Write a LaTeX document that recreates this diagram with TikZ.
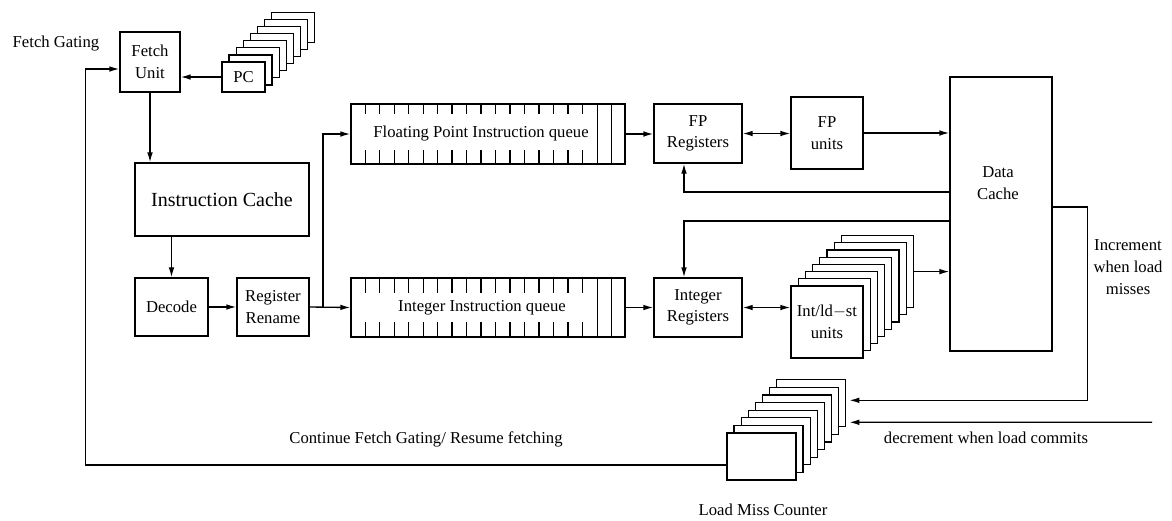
\documentclass[tikz,border=0pt]{standalone}
\usepackage{fontspec}
\setmainfont{Liberation Serif}
\usetikzlibrary{arrows.meta}

\begin{document}
\begin{tikzpicture}[x=0.6pt,y=-0.6pt,line width=0.8pt,
    font=\fontsize{10}{13}\selectfont,
    blk/.style={draw,fill=white,align=center,inner sep=1pt},
    arr/.style={-{Latex[length=6pt,width=3.4pt]}},
    darr/.style={{Latex[length=6pt,width=3.4pt]}-{Latex[length=6pt,width=3.4pt]}}]
  \useasboundingbox (0,0) rectangle (1172,520);
  \node (gatelbl) at (56,44) {Fetch Gating};
  \node[blk,minimum width=36pt,minimum height=36pt] (fetch) at (150,62) {Fetch\\Unit};
  \foreach \i in {7,...,1}
    \node[blk,minimum width=25.8pt,minimum height=18pt] (pc\i) at (243.5+7.1*\i,77-7.1*\i) {};
  \node[blk,minimum width=25.8pt,minimum height=18pt] (pc) at (243.5,77) {PC};
  \node[blk,minimum width=104.4pt,minimum height=43.8pt,font=\fontsize{12}{14}\selectfont] (icache) at (222,199.5) {Instruction Cache};
  \node[blk,minimum width=43.8pt,minimum height=34.8pt] (decode) at (171.5,307) {Decode};
  \node[blk,minimum width=43.2pt,minimum height=34.8pt] (rename) at (273,307) {Register\\Rename};
  \node[blk,minimum width=164.4pt,minimum height=36pt] (fpq) at (488,134) {};
  \node (fpqlbl) at (481,134) {Floating Point Instruction queue};
  \node[blk,minimum width=164.4pt,minimum height=35.4pt] (intq) at (488,307.5) {};
  \node (intqlbl) at (482,308) {Integer Instruction queue};
  \foreach \k in {0,...,15} {
    \draw ([shift={(15+14.47*\k,0)}]fpq.north west) -- ++(0,11);
    \draw ([shift={(15+14.47*\k,0)}]fpq.south west) -- ++(0,-15);
    \draw ([shift={(15+14.47*\k,0)}]intq.north west) -- ++(0,16);
    \draw ([shift={(15+14.47*\k,0)}]intq.south west) -- ++(0,-16);
  }
  \foreach \d in {247,261} {
    \draw ([shift={(\d,0)}]fpq.north west) -- ([shift={(\d,0)}]fpq.south west);
    \draw ([shift={(\d,0)}]intq.north west) -- ([shift={(\d,0)}]intq.south west);
  }
  \node[blk,minimum width=52.8pt,minimum height=35.4pt] (fpreg) at (698,133.5) {FP\\Registers};
  \node[blk,minimum width=43.2pt,minimum height=43.2pt] (fpu) at (827,133) {FP\\units};
  \node[blk,minimum width=52.8pt,minimum height=35.4pt] (intreg) at (698,307.5) {Integer\\Registers};
  \foreach \i in {7,...,1}
    \node[blk,minimum width=43.2pt,minimum height=43.2pt] (intu\i) at (827+7.2*\i,322-7.2*\i) {};
  \node[blk,minimum width=43.2pt,minimum height=43.2pt] (intu) at (827,322) {Int/ld$-$st\\units};
  \node[blk,minimum width=61.2pt,minimum height=164.4pt] (dcache) at (1001,214) {};
  \node[align=center] (dclbl) at (998,183) {Data\\Cache};
  \foreach \i in {7,...,1}
    \node[blk,minimum width=41.4pt,minimum height=28.2pt] (lmc\i) at (761.5+7.1*\i,456.5-7.6*\i) {};
  \node[blk,minimum width=41.4pt,minimum height=28.2pt] (lmc) at (761.5,456.5) {};
  \node (lmclbl) at (763,510) {Load Miss Counter};
  \node (contlbl) at (426,439) {Continue Fetch Gating/ Resume fetching};
  \node (declbl) at (986,438) {decrement when load commits};
  \node[align=center] (inclbl) at (1128,267) {Increment\\when load\\misses};

  \draw[arr] (pc.west) -- (pc.west -| fetch.east);
  \draw[arr] (fetch.south) -- (fetch.south |- icache.north);
  \draw[arr] (icache.south -| decode.north) -- (decode.north);
  \draw[arr] (decode.east) -- (rename.west);
  \draw[arr] (rename.east) -- (intq.west);
  \coordinate (br) at (323,307);
  \draw[arr] (br) |- (fpq.west);
  \draw[arr] (fpq.east) -- (fpq.east -| fpreg.west);
  \draw[arr] (intq.east) -- (intq.east -| intreg.west);
  \draw[darr] (fpreg.east) -- (fpreg.east -| fpu.west);
  \draw[darr] (intreg.east) -- (intreg.east -| intu.west);
  \draw[arr] (fpu.east) -- (fpu.east -| dcache.west);
  \draw[arr] (intu7.east) -- (intu7.east -| dcache.west);
  \draw[arr] ([shift={(0,-22)}]dcache.west) -| ([shift={(-14,0)}]fpreg.south);
  \draw[arr] ([shift={(0,7)}]dcache.west) -| ([shift={(-14,0)}]intreg.north);
  \draw[arr] ([shift={(0,-7)}]dcache.east) -- ++(35,0) |- ([shift={(3,-3)}]lmc7.east);
  \coordinate (dec) at ([shift={(3,19)}]lmc7.east);
  \coordinate (decsrc) at (1152,422.3);
  \draw[arr] (decsrc) -- (dec);
  \draw[arr] ([shift={(0,8.5)}]lmc.west) -- ++(-641,0) |- ([shift={(0,7)}]fetch.west);
\end{tikzpicture}
\end{document}
